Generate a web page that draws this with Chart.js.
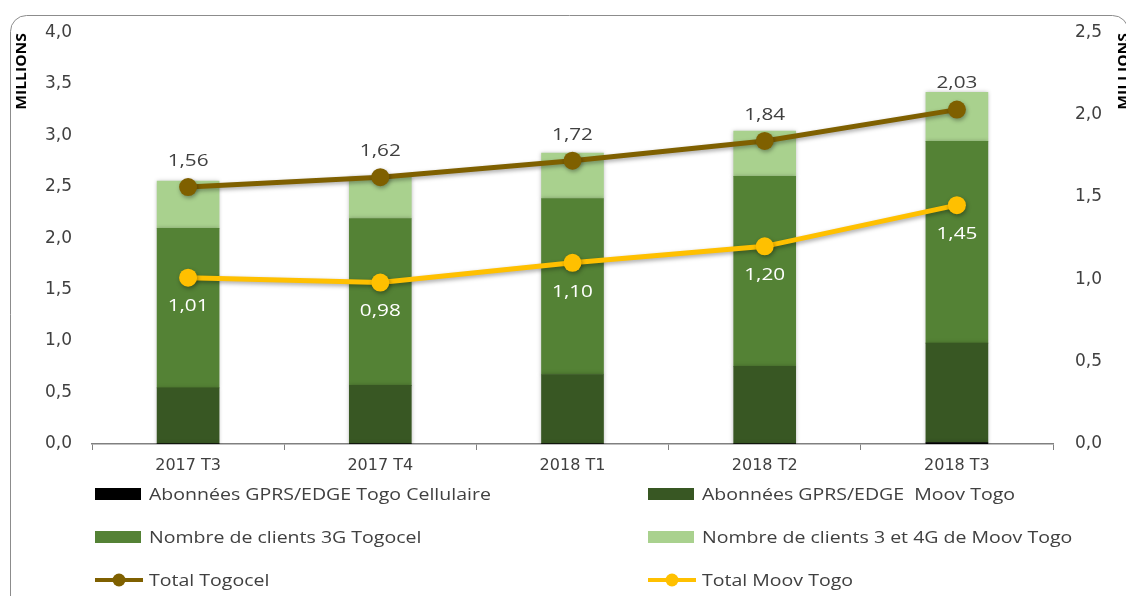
<!DOCTYPE html>
<html>
<head>
<meta charset="utf-8">
<script src="https://cdn.jsdelivr.net/npm/chart.js@4.4.0/dist/chart.umd.min.js"></script>
<style>
  html, body { margin: 0; padding: 0; background: #fff; }
  #wrap { width: 1126px; height: 596px; position: relative; }
</style>
</head>
<body>
<div id="wrap"><canvas id="myChart" width="1126" height="596"></canvas></div>
<script>
// categories
const quarters = ['2017 T3', '2017 T4', '2018 T1', '2018 T2', '2018 T3']

// stacked bars (millions, left axis)
const gprsTogocel = [0.005, 0.005, 0.005, 0.005, 0.015]
const gprsMoov = [0.54, 0.565, 0.67, 0.75, 0.965]
const clients3gTogocel = [1.55, 1.62, 1.71, 1.845, 1.96]
const clients34gMoov = [0.46, 0.40, 0.44, 0.44, 0.475]

// totals (millions, right axis)
const totalTogocel = [1.56, 1.62, 1.72, 1.84, 2.03]
const totalMoov = [1.01, 0.98, 1.10, 1.20, 1.45]

const FONT = '"DejaVu Sans", "Noto Sans", sans-serif'
const SOFT = '"Open Sans", "Noto Sans", sans-serif'
const TXT = '#404040'
const STRETCH = 1.22

function fr(v, d) {
    return v.toFixed(d).replace('.', ',')
}

// text widened a bit, like the original export
function wideText(ctx, text, x, y, align) {
    ctx.save()
    ctx.translate(x, y)
    ctx.scale(STRETCH, 1)
    ctx.textAlign = align
    ctx.fillText(text, 0, 0)
    ctx.restore()
}

// frame + axis titles
const framePlugin = {
    id: 'frame',
    beforeDraw(chart) {
        const ctx = chart.ctx
        ctx.save()
        ctx.strokeStyle = '#8c8c8c'
        ctx.lineWidth = 1
        ctx.beginPath()
        ctx.roundRect(10.5, 15.5, 1118, 620, 16)
        ctx.stroke()
        ctx.restore()
    },
    afterDraw(chart) {
        const ctx = chart.ctx
        ctx.save()
        ctx.font = 'bold 14px ' + SOFT
        ctx.fillStyle = '#000'
        ctx.textAlign = 'right'
        ctx.textBaseline = 'middle'
        ;[22, 1124].forEach(x => {
            ctx.save()
            ctx.translate(x, 33)
            ctx.rotate(-Math.PI / 2)
            ctx.scale(1.12, 1)
            ctx.fillText('MILLIONS', 0, 0)
            ctx.restore()
        })
        ctx.restore()
    }
}

// value labels on line points
const labelPlugin = {
    id: 'pointLabels',
    afterDatasetsDraw(chart) {
        const ctx = chart.ctx
        ctx.save()
        ctx.font = '17px ' + SOFT
        ctx.textBaseline = 'middle'
        chart.data.datasets.forEach((ds, i) => {
            if (ds.type !== 'line') return
            const meta = chart.getDatasetMeta(i)
            meta.data.forEach((pt, j) => {
                if (ds.labelPos === 'above') {
                    ctx.fillStyle = TXT
                    wideText(ctx, fr(ds.data[j], 2), pt.x, pt.y - 26, 'center')
                } else {
                    ctx.fillStyle = '#ffffff'
                    wideText(ctx, fr(ds.data[j], 2), pt.x, pt.y + 29, 'center')
                }
            })
        })
        ctx.restore()
    }
}

// line shadow
const shadowPlugin = {
    id: 'lineShadow',
    beforeDatasetDraw(chart, args) {
        const ds = chart.data.datasets[args.index]
        const ctx = chart.ctx
        ctx.save()
        if (ds.type === 'line') {
            ctx.shadowColor = 'rgba(0,0,0,0.35)'
            ctx.shadowBlur = 4
            ctx.shadowOffsetX = 1
            ctx.shadowOffsetY = 2
        } else {
            ctx.shadowColor = 'rgba(0,0,0,0.25)'
            ctx.shadowBlur = 4
        }
    },
    afterDatasetDraw(chart) {
        chart.ctx.restore()
    }
}

// two-column legend at the bottom
const legendPlugin = {
    id: 'customLegend',
    afterDraw(chart) {
        const ctx = chart.ctx
        const cols = [95, 648]
        const rows = [494, 537, 580]
        ctx.save()
        ctx.font = '16px ' + SOFT
        ctx.textBaseline = 'middle'
        chart.data.datasets.forEach((ds, i) => {
            const x = cols[i % 2]
            const y = rows[Math.floor(i / 2)]
            if (ds.type === 'line') {
                ctx.strokeStyle = ds.borderColor
                ctx.lineWidth = 4
                ctx.beginPath()
                ctx.moveTo(x, y)
                ctx.lineTo(x + 48, y)
                ctx.stroke()
                ctx.fillStyle = ds.borderColor
                ctx.beginPath()
                ctx.arc(x + 24, y, 6.5, 0, Math.PI * 2)
                ctx.fill()
            } else {
                ctx.fillStyle = ds.backgroundColor
                ctx.fillRect(x, y - 6, 46, 12)
            }
            ctx.fillStyle = TXT
            wideText(ctx, ds.label, x + 54, y + 1, 'left')
        })
        ctx.restore()
    }
}

const ctx = document.getElementById('myChart').getContext('2d')
const myChart = new Chart(ctx, {
    data: {
        labels: quarters,
        datasets: [
            { type: 'bar', label: 'Abonnées GPRS/EDGE Togo Cellulaire', data: gprsTogocel, backgroundColor: '#000000', yAxisID: 'y', stack: 's', order: 2 },
            { type: 'bar', label: 'Abonnées GPRS/EDGE  Moov Togo', data: gprsMoov, backgroundColor: '#385723', yAxisID: 'y', stack: 's', order: 2 },
            { type: 'bar', label: 'Nombre de clients 3G Togocel', data: clients3gTogocel, backgroundColor: '#548235', yAxisID: 'y', stack: 's', order: 2 },
            { type: 'bar', label: 'Nombre de clients 3 et 4G de Moov Togo', data: clients34gMoov, backgroundColor: '#a9d18e', yAxisID: 'y', stack: 's', order: 2 },
            { type: 'line', label: 'Total Togocel', data: totalTogocel, borderColor: '#7f6000', backgroundColor: '#7f6000', borderWidth: 5, pointRadius: 9, pointHoverRadius: 9, pointBackgroundColor: '#7f6000', pointBorderWidth: 0, yAxisID: 'y1', labelPos: 'above', order: 0 },
            { type: 'line', label: 'Total Moov Togo', data: totalMoov, borderColor: '#ffc000', backgroundColor: '#ffc000', borderWidth: 5, pointRadius: 9, pointHoverRadius: 9, pointBackgroundColor: '#ffc000', pointBorderWidth: 0, yAxisID: 'y1', labelPos: 'below', order: 0 }
        ]
    },
    options: {
        responsive: false,
        animation: false,
        layout: { padding: { top: 27, left: 0, right: 0, bottom: 0 } },
        datasets: {
            bar: { barThickness: 62, borderWidth: 0 }
        },
        plugins: {
            legend: { display: false },
            tooltip: { enabled: false }
        },
        scales: {
            x: {
                stacked: true,
                grid: { display: true, drawOnChartArea: false, drawTicks: true, tickLength: 6, color: '#808080', offset: true },
                border: { display: true, color: '#808080', width: 1.5 },
                ticks: { color: TXT, font: { family: FONT, size: 16 }, padding: 6 },
                afterFit(scale) { scale.height = 152 }
            },
            y: {
                position: 'left',
                stacked: true,
                min: 0,
                max: 4,
                grid: { display: false, drawTicks: false },
                border: { display: false },
                ticks: { stepSize: 0.5, color: TXT, font: { family: FONT, size: 17 }, padding: 20, callback: v => fr(v, 1) },
                afterFit(scale) { scale.width = 92 }
            },
            y1: {
                position: 'right',
                min: 0,
                max: 2.5,
                grid: { display: false, drawTicks: false },
                border: { display: false },
                ticks: { stepSize: 0.5, color: TXT, font: { family: FONT, size: 17 }, padding: 22, callback: v => fr(v, 1) },
                afterFit(scale) { scale.width = 73 }
            }
        }
    },
    plugins: [framePlugin, shadowPlugin, labelPlugin, legendPlugin]
})
</script>
</body>
</html>
